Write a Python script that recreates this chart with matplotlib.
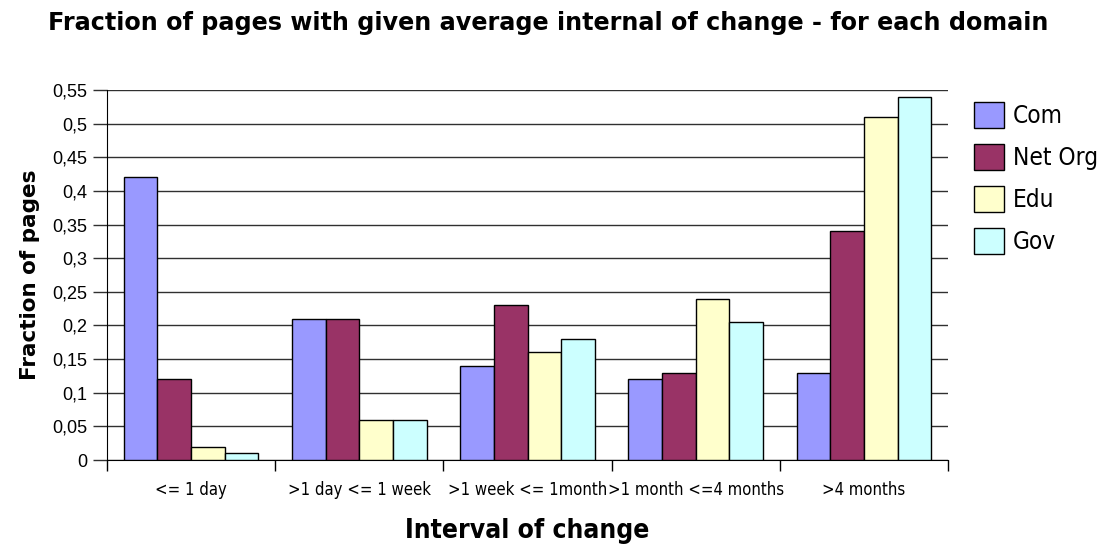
import matplotlib.pyplot as plt
import numpy as np
from matplotlib.ticker import FuncFormatter

intervals = ["<= 1 day", ">1 day <= 1 week", ">1 week <= 1month",
             ">1 month <=4 months", ">4 months"]
domains = ["Com", "Net Org", "Edu", "Gov"]
com = [0.42, 0.21, 0.14, 0.12, 0.13]
net_org = [0.12, 0.209, 0.23, 0.13, 0.34]
edu = [0.02, 0.06, 0.16, 0.24, 0.51]
gov = [0.01, 0.06, 0.18, 0.205, 0.54]
colors = ["#9999FF", "#993366", "#FFFFCC", "#CCFFFF"]

fig = plt.figure(figsize=(11.11, 5.47), dpi=100)
ax = fig.add_axes([0.0963, 0.159, 0.757, 0.6765])

x = np.arange(len(intervals))
width = 0.2
for i, (vals, name) in enumerate(zip([com, net_org, edu, gov], domains)):
    ax.bar(x - 0.3 + i * width, vals, width, color=colors[i], edgecolor="black",
           linewidth=1, label=name, zorder=3)

ax.set_xlim(-0.5, len(intervals) - 0.5)
ax.set_ylim(0, 0.55)
ax.set_yticks(np.arange(0, 0.551, 0.05))
ax.yaxis.set_major_formatter(FuncFormatter(lambda v, p: ("%.2f" % v).rstrip("0").rstrip(".").replace(".", ",")))
ax.grid(axis="y", color="#303030", linewidth=1, zorder=0)

# group ticks sit between the categories, labels in the middle
ax.set_xticks(np.arange(-0.5, len(intervals), 1.0))
ax.set_xticklabels([])
ax.set_xticks(x, minor=True)
ax.set_xticklabels(intervals, minor=True, fontsize=12, family="DejaVu Sans", fontstretch="condensed")
ax.tick_params(axis="x", which="major", length=8, width=1, color="black")
ax.tick_params(axis="x", which="minor", length=0, pad=15)
ax.tick_params(axis="y", length=10, width=1, color="#303030", labelsize=13, pad=4)
for lab in ax.get_yticklabels():
    lab.set_family("Liberation Sans")

for side in ["top", "right"]:
    ax.spines[side].set_visible(False)
ax.spines["left"].set_color("black")
ax.spines["bottom"].set_color("black")

fig.text(0.493, 0.958, "Fraction of pages with given average internal of change - for each domain",
         ha="center", va="center", fontsize=17.2, fontweight="bold", family="DejaVu Sans")
ax.set_ylabel("Fraction of pages", fontsize=15.5, fontweight="bold", family="DejaVu Sans", labelpad=9)
ax.set_xlabel("Interval of change", fontsize=19, fontweight="bold", family="DejaVu Sans",
              fontstretch="condensed", labelpad=14)

ax.legend(loc="upper left", bbox_to_anchor=(1.005, 1.027), frameon=False,
          handlelength=1.25, handleheight=1.25, handletextpad=0.35, labelspacing=0.66,
          prop={"family": "DejaVu Sans", "stretch": "condensed", "size": 17.5})

fig.savefig("out.png", dpi=100)
